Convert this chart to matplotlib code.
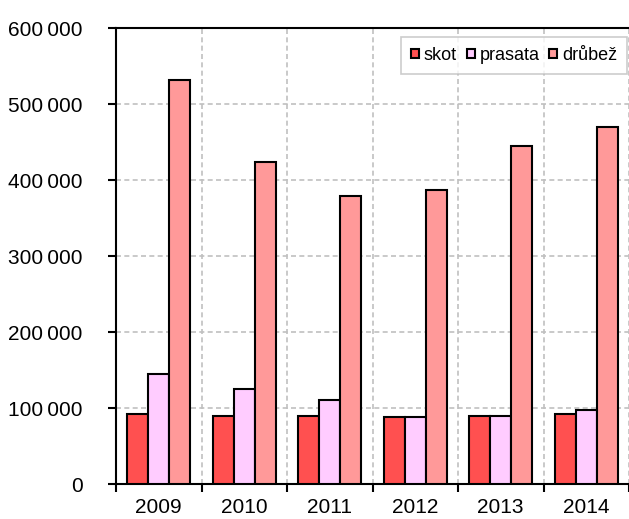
import matplotlib
matplotlib.use("Agg")
import matplotlib.pyplot as plt
import numpy as np
from matplotlib.ticker import FuncFormatter, MultipleLocator

years = ["2009", "2010", "2011", "2012", "2013", "2014"]
skot = [91700, 89100, 89000, 88800, 89000, 91800]
prasata = [144300, 125500, 110100, 88700, 89000, 97000]
drubez = [531000, 423500, 378800, 386700, 444200, 470300]

series = [("skot", skot, "#FF5050"),
          ("prasata", prasata, "#FFCCFF"),
          ("drůbež", drubez, "#FF9999")]

plt.rcParams["font.family"] = ["Liberation Sans", "DejaVu Sans"]

fig = plt.figure(figsize=(6.29, 5.19), dpi=100)
ax = fig.add_axes([116 / 629, 35 / 519, 513 / 629, 456 / 519])

x = np.arange(len(years))
width = 0.244
for k, (name, vals, color) in enumerate(series):
    ax.bar(x + (k - 1) * width, vals, width, color=color, edgecolor="black",
           linewidth=1.5, label=name, zorder=3)

ax.set_ylim(0, 600000)
ax.set_xlim(-0.5, 5.485)
ax.yaxis.set_major_locator(MultipleLocator(100000))
# thousands separated by a narrow space, as in the source
ax.yaxis.set_major_formatter(FuncFormatter(lambda v, p: f"{int(v):,}".replace(",", "\u2009")))

# ticks at category boundaries, labels centered
ax.set_xticks(np.arange(-0.5, 5.6, 1.0))
ax.set_xticklabels([])
ax.set_xticks(x, minor=True)
ax.set_xticklabels(years, minor=True)
ax.tick_params(axis="x", which="minor", length=0, pad=10, labelsize=15)
ax.tick_params(axis="x", which="major", length=6, width=1.5, direction="out")
ax.tick_params(axis="y", length=6, width=1.5, direction="out", pad=18, labelsize=15)

ax.grid(True, axis="y", which="major", color="#C0C0C0", linestyle=(0, (3, 2)), linewidth=1.2, zorder=0)
ax.grid(True, axis="x", which="major", color="#C0C0C0", linestyle=(0, (3, 2)), linewidth=1.2, zorder=0)

for side in ["left", "bottom", "top"]:
    ax.spines[side].set_linewidth(1.5)
ax.spines["right"].set_visible(False)

leg = ax.legend(loc="upper right", ncol=3, fontsize=13, frameon=True, fancybox=False,
                handlelength=0.45, handleheight=0.45, handletextpad=0.25,
                columnspacing=0.55, borderpad=0.55, borderaxespad=0,
                bbox_to_anchor=(627 / 629, 1 - 37 / 519), bbox_transform=fig.transFigure)
leg.get_frame().set_edgecolor("#C0C0C0")
leg.get_frame().set_linewidth(1.2)

fig.savefig("out.png", dpi=100)
